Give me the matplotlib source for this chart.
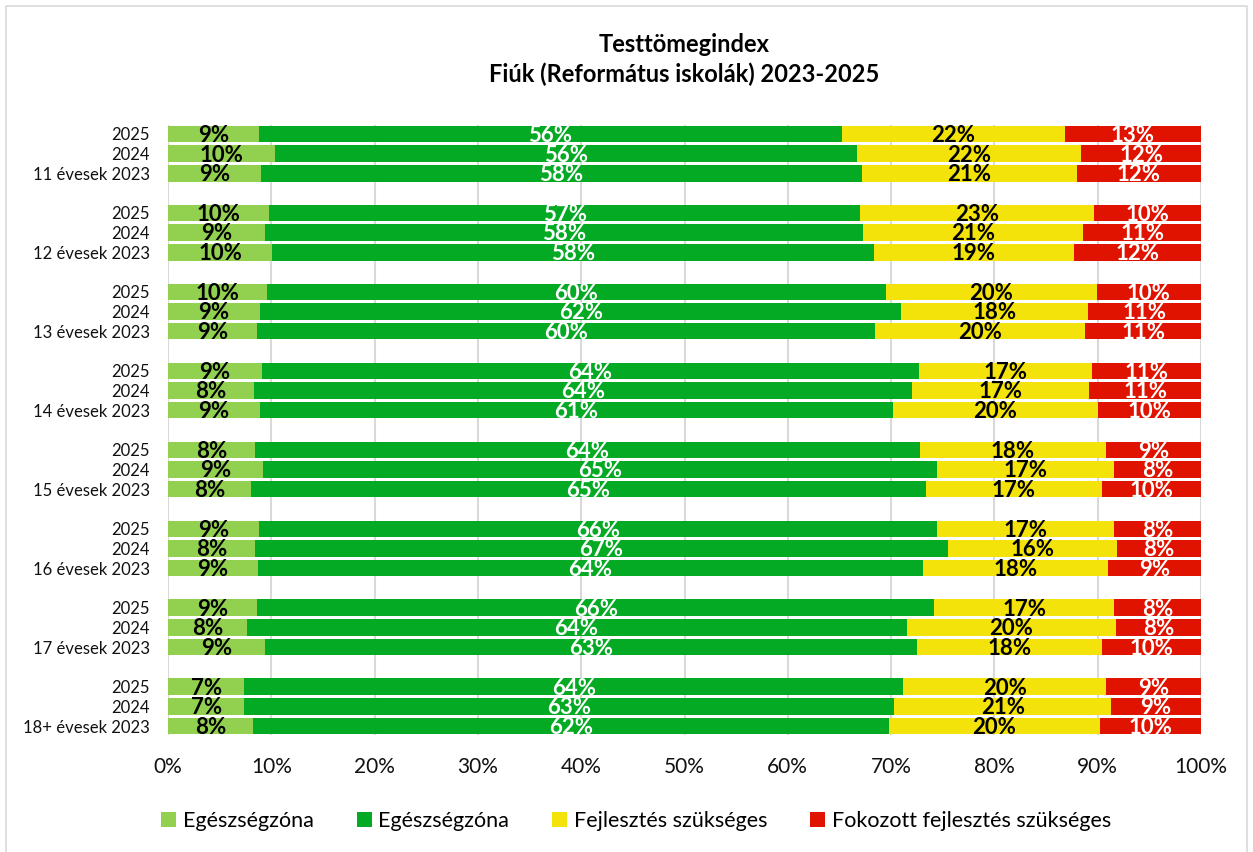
import matplotlib
matplotlib.use("Agg")
import matplotlib.pyplot as plt
from matplotlib.lines import Line2D
from matplotlib.patches import Patch

plt.rcParams['font.family'] = ['Lato', 'DejaVu Sans']

title_lines = ["Testtömegindex", "Fiúk (Református iskolák) 2023-2025"]
age_groups = ["11", "12", "13", "14", "15", "16", "17", "18+"]
years = ["2025", "2024", "2023"]
series_names = ["Egészségzóna", "Egészségzóna", "Fejlesztés szükséges",
                "Fokozott fejlesztés szükséges"]
colors = ["#92D050", "#05AA24", "#F4E30A", "#E01300"]
label_colors = ["black", "white", "black", "white"]

# rows top to bottom: for each age group 2025, 2024, 2023
light_green = [8.8, 10.4, 9.0, 9.8, 9.4, 10.1, 9.6, 8.9, 8.6, 9.1, 8.3, 8.9,
               8.4, 9.2, 8.0, 8.8, 8.4, 8.7, 8.6, 7.6, 9.4, 7.4, 7.4, 8.2]
green = [56.4, 56.3, 58.2, 57.2, 57.9, 58.2, 59.9, 62.1, 59.8, 63.6, 63.7, 61.3,
         64.4, 65.2, 65.4, 65.6, 67.1, 64.4, 65.6, 63.9, 63.1, 63.8, 62.9, 61.6]
yellow = [21.6, 21.7, 20.8, 22.6, 21.3, 19.4, 20.4, 18.1, 20.4, 16.7, 17.2, 19.8,
          18.0, 17.2, 17.0, 17.2, 16.4, 17.9, 17.4, 20.3, 17.9, 19.6, 21.0, 20.4]
red = [13.2, 11.6, 12.0, 10.4, 11.4, 12.3, 10.1, 10.9, 11.2, 10.6, 10.8, 10.0,
       9.2, 8.4, 9.6, 8.4, 8.1, 9.0, 8.4, 8.2, 9.6, 9.2, 8.7, 9.8]
x_ticks = [0, 10, 20, 30, 40, 50, 60, 70, 80, 90, 100]

W, H = 1253, 852
fig = plt.figure(figsize=(W / 100, H / 100), dpi=100)
ax = fig.add_axes([168 / W, 1 - 735 / H, (1201 - 168) / W, (735 - 125) / H])

positions = []
ylabels = []
for g, age in enumerate(age_groups):
    for j, yr in enumerate(years):
        positions.append(g * 4 + j)
        ylabels.append(yr if j < 2 else f"{age} évesek {yr}")

series = [light_green, green, yellow, red]
lefts = [0.0] * len(positions)
bar_h = 0.83
for s, vals in enumerate(series):
    ax.barh(positions, vals, left=lefts, height=bar_h, color=colors[s],
            zorder=3, label=series_names[s])
    for p, l, v in zip(positions, lefts, vals):
        ax.text(l + v / 2, p + 0.07, f"{v:.0f}%", ha='center', va='center',
                fontsize=16, fontweight='bold', color=label_colors[s], zorder=4)
    lefts = [a + b for a, b in zip(lefts, vals)]

ax.set_xlim(0, 100)
ax.set_ylim(positions[-1] + 0.45, -0.45)
ax.set_xticks(x_ticks)
ax.set_xticklabels([f"{t}%" for t in x_ticks], fontsize=15, color='#111111')
ax.set_yticks(positions)
ax.set_yticklabels(ylabels, fontsize=12, color='#111111')
ax.tick_params(axis='both', length=0)
ax.tick_params(axis='x', pad=16)
ax.tick_params(axis='y', pad=13)
ax.grid(axis='x', color='#D9D9D9', linewidth=1.5, zorder=0)
ax.set_axisbelow(True)
for sp in ax.spines.values():
    sp.set_visible(False)

cx = (168 + 1201) / 2 / W
fig.text(cx, 1 - 44 / H, title_lines[0], ha='center', va='center',
         fontsize=17, fontweight='bold', color='black')
fig.text(cx, 1 - 74 / H, title_lines[1], ha='center', va='center',
         fontsize=17, fontweight='bold', color='black')

handles = [Patch(facecolor=c, edgecolor='none') for c in colors]
fig.legend(handles, series_names, loc='center', bbox_to_anchor=(636 / W, 1 - 821 / H),
           ncol=4, frameon=False, fontsize=15.5, handlelength=0.7, handleheight=0.7,
           handletextpad=0.3, columnspacing=2.0)

# outer border
fig.add_artist(Line2D([6 / W, 6 / W, 1247 / W, 1247 / W],
                      [0, 1 - 6 / H, 1 - 6 / H, 0], transform=fig.transFigure,
                      color='#D9D9D9', linewidth=1.2))

fig.savefig("out.png", dpi=100)
